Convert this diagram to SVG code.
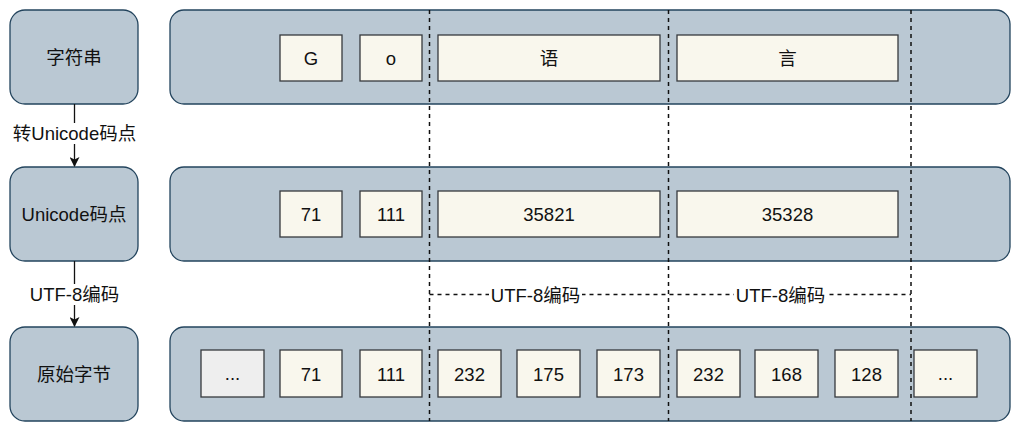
<svg xmlns="http://www.w3.org/2000/svg" width="1023" height="438" viewBox="0 0 1023 438">
<defs>
<style>
.node{fill:#BAC8D3;stroke:#23445D;stroke-width:1.3}
.cont{fill:#BAC8D3;stroke:#23445D;stroke-width:1.3}
.cell{fill:#F9F7ED;stroke:#36393D;stroke-width:1.3}
.grey{fill:#EEEEEE;stroke:#36393D;stroke-width:1.3}
text{font-family:"Liberation Sans","Noto Sans CJK SC",sans-serif;font-size:18.5px;fill:#111111;text-anchor:middle;dominant-baseline:central}
.dash{stroke:#111111;stroke-width:1.5;stroke-dasharray:4 4;fill:none}
.line{stroke:#111111;stroke-width:1.3;fill:none}
</style>
<marker id="ah" markerWidth="10" markerHeight="10" refX="9" refY="5" orient="auto" markerUnits="userSpaceOnUse">
<path d="M0,0 L10,5 L0,10 L2.5,5 Z" fill="#111111"/>
</marker>
</defs>
<rect width="1023" height="438" fill="#ffffff"/>

<g id="containers">
<rect class="cont" x="170" y="10" width="840" height="94" rx="14"/>
<rect class="cont" x="170" y="167" width="840" height="94" rx="14"/>
<rect class="cont" x="170" y="327" width="840" height="94" rx="14"/>
</g>

<g id="node-string">
<rect class="node" x="10" y="10" width="128" height="94" rx="15"/>
<text x="74" y="57">字符串</text>
</g>
<g id="node-unicode">
<rect class="node" x="10" y="167" width="128" height="94" rx="15"/>
<text x="74" y="214">Unicode码点</text>
</g>
<g id="node-bytes">
<rect class="node" x="10" y="327" width="128" height="94" rx="15"/>
<text x="74" y="374">原始字节</text>
</g>

<g id="row-string">
<g id="s-G"><rect class="cell" x="280" y="35" width="62" height="46"/><text x="311" y="58">G</text></g>
<g id="s-o"><rect class="cell" x="360" y="35" width="62" height="46"/><text x="391" y="58">o</text></g>
<g id="s-yu"><rect class="cell" x="438" y="35" width="222" height="46"/><text x="549" y="58">语</text></g>
<g id="s-yan"><rect class="cell" x="677" y="35" width="221" height="46"/><text x="787.5" y="58">言</text></g>
</g>

<g id="row-unicode">
<g id="u-71"><rect class="cell" x="280" y="191" width="62" height="46"/><text x="311" y="214">71</text></g>
<g id="u-111"><rect class="cell" x="360" y="191" width="62" height="46"/><text x="391" y="214">111</text></g>
<g id="u-35821"><rect class="cell" x="438" y="191" width="222" height="46"/><text x="549" y="214">35821</text></g>
<g id="u-35328"><rect class="cell" x="677" y="191" width="221" height="46"/><text x="787.5" y="214">35328</text></g>
</g>

<g id="row-bytes">
<g id="b-dots1"><rect class="grey" x="201" y="350" width="63" height="47"/><text x="232.5" y="373">...</text></g>
<g id="b-71"><rect class="cell" x="280" y="350" width="62" height="47"/><text x="311" y="374">71</text></g>
<g id="b-111"><rect class="cell" x="360" y="350" width="62" height="47"/><text x="391" y="374">111</text></g>
<g id="b-232a"><rect class="cell" x="438" y="350" width="63" height="47"/><text x="469.5" y="374">232</text></g>
<g id="b-175"><rect class="cell" x="517" y="350" width="63" height="47"/><text x="548.5" y="374">175</text></g>
<g id="b-173"><rect class="cell" x="597" y="350" width="63" height="47"/><text x="628.5" y="374">173</text></g>
<g id="b-232b"><rect class="cell" x="677" y="350" width="63" height="47"/><text x="708.5" y="374">232</text></g>
<g id="b-168"><rect class="cell" x="755" y="350" width="63" height="47"/><text x="786.5" y="374">168</text></g>
<g id="b-128"><rect class="cell" x="835" y="350" width="63" height="47"/><text x="866.5" y="374">128</text></g>
<g id="b-dots2"><rect class="cell" x="914" y="350" width="63" height="47"/><text x="945.5" y="373">...</text></g>
</g>

<g id="connectors">
<line class="dash" x1="429.5" y1="10" x2="429.5" y2="421"/>
<line class="dash" x1="668.5" y1="10" x2="668.5" y2="421"/>
<line class="dash" x1="911" y1="10" x2="911" y2="421"/>
<line class="dash" x1="429.5" y1="294.5" x2="911" y2="294.5"/>
<rect x="489" y="284" width="93" height="21" fill="#ffffff"/>
<text x="535.5" y="295">UTF-8编码</text>
<rect x="734" y="284" width="93" height="21" fill="#ffffff"/>
<text x="780.5" y="295">UTF-8编码</text>

<line class="line" x1="74.5" y1="104" x2="74.5" y2="166" marker-end="url(#ah)"/>
<rect x="12" y="123" width="125" height="21" fill="#ffffff"/>
<text x="74.5" y="133">转Unicode码点</text>
<line class="line" x1="74.5" y1="261" x2="74.5" y2="326" marker-end="url(#ah)"/>
<rect x="28" y="284" width="93" height="21" fill="#ffffff"/>
<text x="74.5" y="294">UTF-8编码</text>
</g>
</svg>
